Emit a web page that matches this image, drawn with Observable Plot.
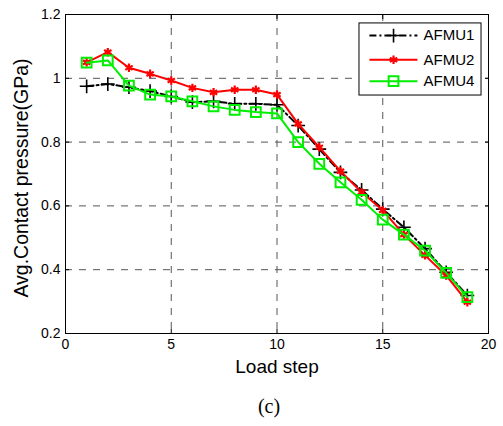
<!DOCTYPE html>
<html>
<head>
<meta charset="utf-8">
<script src="https://cdn.jsdelivr.net/npm/d3@7"></script>
<script src="https://cdn.jsdelivr.net/npm/@observablehq/plot@0.6"></script>
<style>
  html, body { margin: 0; padding: 0; background: white; }
</style>
</head>
<body>
<div id="chart"></div>
<script>
const steps = [1, 2, 3, 4, 5, 6, 7, 8, 9, 10, 11, 12, 13, 14, 15, 16, 17, 18, 19];
const afmu1 = [0.975, 0.982, 0.972, 0.960, 0.943, 0.925, 0.928, 0.920, 0.920, 0.917, 0.852, 0.778, 0.705, 0.650, 0.590, 0.533, 0.466, 0.392, 0.319];
const afmu2 = [1.050, 1.082, 1.033, 1.014, 0.993, 0.970, 0.956, 0.964, 0.964, 0.949, 0.857, 0.784, 0.709, 0.643, 0.586, 0.510, 0.445, 0.382, 0.298];
const afmu4 = [1.049, 1.056, 0.977, 0.949, 0.943, 0.928, 0.912, 0.901, 0.894, 0.890, 0.800, 0.732, 0.674, 0.619, 0.557, 0.510, 0.460, 0.390, 0.314];
const seriesNames = ["AFMU1", "AFMU2", "AFMU4"];
const xTicks = [0, 5, 10, 15, 20];
const yTicks = [0.2, 0.4, 0.6, 0.8, 1, 1.2];

const seriesValues = [afmu1, afmu2, afmu4];
const styles = [
  {stroke: "black", dash: "7,3,2,3", symbol: "plus", r: 4.5, sw: 1.6},
  {stroke: "#ff0000", dash: null, symbol: "asterisk", r: 4, sw: 2.2},
  {stroke: "#00ee00", dash: null, symbol: "square", r: 5.5, sw: 2}
];
const tables = seriesValues.map((vals, i) => steps.map((s, j) => ({step: s, value: vals[j], series: seriesNames[i]})));

// legend layout (data coordinates inside plot frame)
const legendRowsY = [1.134, 1.058, 0.991];
const legend = seriesNames.map((name, i) => ({name, y: legendRowsY[i], i}));

const seriesMarks = tables.flatMap((t, i) => {
  const st = styles[i];
  return [
    Plot.line(t, {x: "step", y: "value", stroke: st.stroke, strokeWidth: 2, strokeDasharray: st.dash}),
    Plot.dot(t, {x: "step", y: "value", symbol: st.symbol, r: st.r, stroke: st.stroke, strokeWidth: st.sw, fill: "none"})
  ];
});

const legendMarks = [
  Plot.rect([0], {x1: 13.9, x2: 19.67, y1: 0.946, y2: 1.172, fill: "white", stroke: "black", strokeWidth: 1}),
  ...legend.flatMap(d => {
    const st = styles[d.i];
    return [
      Plot.link([d], {x1: 14.37, x2: 16.64, y1: "y", y2: "y", stroke: st.stroke, strokeWidth: 2, strokeDasharray: st.dash}),
      Plot.dot([d], {x: 15.51, y: "y", symbol: st.symbol, r: st.r, stroke: st.stroke, strokeWidth: st.sw, fill: "none"})
    ];
  }),
  Plot.text(legend, {x: 16.93, y: "y", text: "name", textAnchor: "start", fontSize: 15, fill: "black"})
];

const gridStyle = {stroke: "#555", strokeOpacity: 1, strokeWidth: 1, strokeDasharray: "7,7"};

const chart = Plot.plot({
  width: 503,
  height: 426,
  marginTop: 14,
  marginLeft: 65,
  marginRight: 15,
  marginBottom: 93,
  x: {domain: [0, 20], ticks: xTicks},
  y: {domain: [0.2, 1.2], ticks: yTicks},
  style: {fontFamily: "'Liberation Sans', Arial, Helvetica, sans-serif", fontSize: "14px", background: "white", color: "black"},
  marks: [
    Plot.gridX([5, 10, 15], gridStyle),
    Plot.gridY([0.4, 0.6, 0.8, 1], gridStyle),
    Plot.axisX({ticks: xTicks, tickSize: -4, tickPadding: 10, label: null, tickFormat: d => String(d), fontSize: 14}),
    Plot.axisX({ticks: xTicks, anchor: "top", tickSize: -4, label: null, tickFormat: () => ""}),
    Plot.axisY({ticks: yTicks, tickSize: -4, tickPadding: 9, label: null, tickFormat: d => String(d), fontSize: 14}),
    Plot.axisY({ticks: yTicks, anchor: "right", tickSize: -4, label: null, tickFormat: () => ""}),
    ...seriesMarks,
    Plot.frame({stroke: "black", strokeWidth: 1}),
    ...legendMarks,
    Plot.text(["Load step"], {frameAnchor: "bottom", dy: 39, fontSize: 19, textAnchor: "middle", fill: "black"}),
    Plot.text(["Avg.Contact pressure(GPa)"], {frameAnchor: "left", dx: -44, dy: 4, rotate: -90, textAnchor: "middle", fontSize: 19.5, fill: "black"}),
    Plot.text(["(c)"], {frameAnchor: "bottom", dy: 79, dx: -8, fontSize: 20, textAnchor: "middle", fontFamily: "'Liberation Serif', 'Times New Roman', serif", fill: "black"})
  ]
});
document.getElementById("chart").appendChild(chart);
</script>
</body>
</html>
